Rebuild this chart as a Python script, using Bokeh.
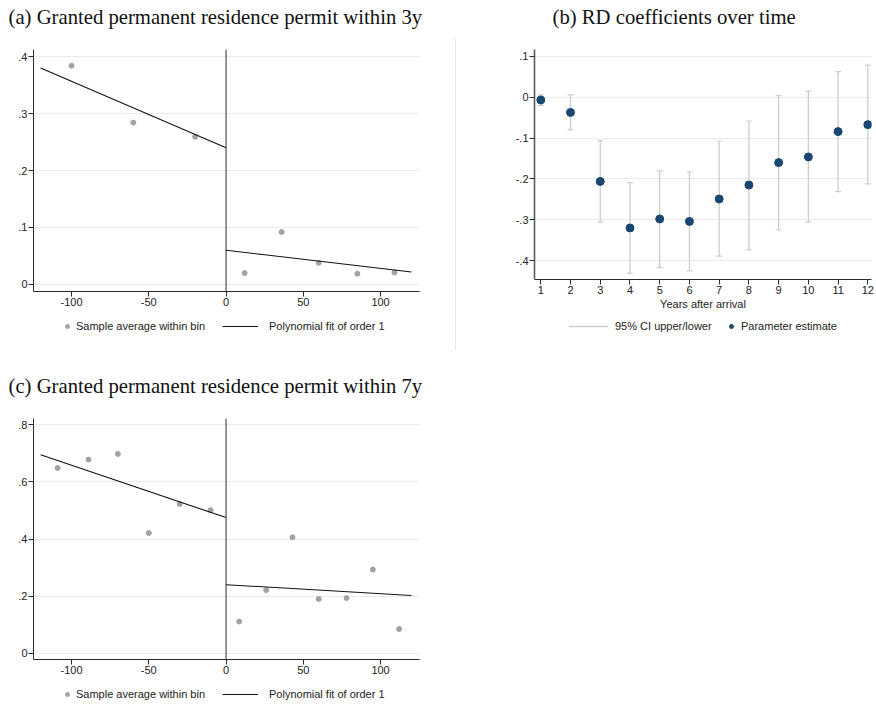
from bokeh.plotting import figure
from bokeh.models import (Span, Legend, LegendItem, FixedTicker, CustomJSTickFormatter,
                          Title, Div, Range1d)
from bokeh.layouts import row, column
from bokeh.embed import file_html
from bokeh.resources import INLINE

# ---------------- data ----------------
# Panel (a): granted permanent residence permit within 3y
a_bin_x = [-100, -60, -20, 12, 36, 60, 85, 109]
a_bin_y = [0.384, 0.284, 0.259, 0.020, 0.092, 0.038, 0.019, 0.021]
a_fitL_x = [-120, 0]
a_fitL_y = [0.380, 0.240]
a_fitR_x = [0, 120]
a_fitR_y = [0.060, 0.022]
a_yticks = [0, 0.1, 0.2, 0.3, 0.4]

# Panel (c): granted permanent residence permit within 7y
c_bin_x = [-109, -89, -70, -50, -30, -10, 8.5, 26, 43, 60, 78, 95, 112]
c_bin_y = [0.649, 0.678, 0.698, 0.421, 0.523, 0.501, 0.111, 0.221, 0.406, 0.190, 0.193, 0.293, 0.085]
c_fitL_x = [-120, 0]
c_fitL_y = [0.695, 0.475]
c_fitR_x = [0, 120]
c_fitR_y = [0.240, 0.202]
c_yticks = [0, 0.2, 0.4, 0.6, 0.8]

rd_xticks = [-100, -50, 0, 50, 100]

# Panel (b): RD coefficients over time
b_years = [1, 2, 3, 4, 5, 6, 7, 8, 9, 10, 11, 12]
b_est = [-0.0065, -0.037, -0.206, -0.320, -0.298, -0.304, -0.249, -0.215, -0.160, -0.146, -0.084, -0.067]
b_upper = [0.006, 0.006, -0.106, -0.209, -0.180, -0.183, -0.107, -0.058, 0.004, 0.015, 0.063, 0.079]
b_lower = [-0.020, -0.079, -0.306, -0.431, -0.417, -0.425, -0.389, -0.374, -0.325, -0.306, -0.231, -0.212]
b_yticks = [-0.4, -0.3, -0.2, -0.1, 0, 0.1]

# ---------------- style ----------------
SANS = "Liberation Sans"
SERIF = "Liberation Serif"
AXIS_C = "#2b2b2b"
GRID_C = "#e5ecee"
PT_C = "#a3a3a3"
NAVY = "#1a476f"
CI_C = "#cdcdcd"
FS = "11px"
TITLE_FS = "20.7px"

yfmt = CustomJSTickFormatter(code="""
    if (Math.abs(tick) < 1e-9) { return '0'; }
    var s = (Math.round(tick * 10) / 10).toFixed(1);
    return s.replace(/^(-?)0\\./, '$1.');
""")
xfmt = CustomJSTickFormatter(code="return String(Math.round(tick));")


def style_axes(p, yticks, xticks):
    for ax in (p.xaxis[0], p.yaxis[0]):
        ax.axis_line_color = AXIS_C
        ax.major_tick_line_color = AXIS_C
        ax.major_tick_out = 5
        ax.major_tick_in = 0
        ax.minor_tick_line_color = None
        ax.major_label_text_font = SANS
        ax.major_label_text_font_size = FS
        ax.major_label_text_color = "#222222"
        ax.major_label_standoff = 1
    p.yaxis[0].ticker = FixedTicker(ticks=yticks)
    p.yaxis[0].formatter = yfmt
    p.yaxis[0].major_label_orientation = "horizontal"
    p.xaxis[0].ticker = FixedTicker(ticks=xticks)
    p.xaxis[0].formatter = xfmt
    p.xgrid.visible = False
    p.ygrid.grid_line_color = GRID_C
    p.ygrid.grid_line_width = 1
    p.ygrid.ticker = FixedTicker(ticks=yticks)
    p.outline_line_color = None
    p.background_fill_color = "white"
    p.border_fill_color = "white"


def add_title(p, text, offset):
    # spacer nearest to the frame, then the real title above it
    p.add_layout(Title(text=" ", text_font_size="10px", standoff=9), "above")
    p.add_layout(Title(text=text, align="left", offset=offset, text_font=SERIF,
                       text_font_size=TITLE_FS, text_font_style="normal",
                       text_color="#111111", vertical_align="bottom", standoff=0), "above")


def make_leg(items, loc, gw, standoff):
    return Legend(items=items, location=loc, orientation="horizontal",
                  glyph_width=gw, glyph_height=20, label_standoff=standoff,
                  padding=0, margin=0, spacing=0, border_line_color=None,
                  background_fill_alpha=0, label_text_font=SANS,
                  label_text_font_size=FS, label_text_color="#222222")


def legend_fig(width, height):
    # key strip under a panel; its ranges lie away from the data so only the key shows
    q = figure(width=width, height=height, output_backend="svg", toolbar_location=None,
               x_range=Range1d(-1001, -1000), y_range=Range1d(-1001, -1000),
               x_axis_location=None, y_axis_location=None,
               min_border_left=0, min_border_right=0, min_border_top=0, min_border_bottom=0,
               frame_align=False)
    q.grid.visible = False
    q.outline_line_color = None
    return q


def rd_panel(title, bx, by, flx, fly, frx, fry, yticks, yr, height, top, leg_h, leg_y):
    p = figure(width=455, height=height, output_backend="svg", toolbar_location=None,
               x_range=Range1d(-124.6, 125.2), y_range=Range1d(*yr),
               min_border_left=33, min_border_right=36,
               min_border_top=top, min_border_bottom=21, frame_align=False)
    style_axes(p, yticks, rd_xticks)
    p.add_layout(Span(location=0, dimension="height", line_color=AXIS_C, line_width=1))
    p.scatter(bx, by, size=5, color=PT_C, line_color=PT_C)
    p.line(flx, fly, line_color="#111111", line_width=1.1)
    p.line(frx, fry, line_color="#111111", line_width=1.1)
    add_title(p, title, -25)

    q = legend_fig(455, leg_h)
    sc = q.scatter(bx, by, size=5, color=PT_C, line_color=PT_C)
    ln = q.line(flx, fly, line_color="#111111", line_width=1.1)
    q.add_layout(make_leg([LegendItem(label="Sample average within bin", renderers=[sc])],
                          (62, leg_y), 10, 4))
    q.add_layout(make_leg([LegendItem(label="Polynomial fit of order 1", renderers=[ln])],
                          (222, leg_y), 36, 11))
    return column(p, q, spacing=0)


col_a = rd_panel("(a) Granted permanent residence permit within 3y",
                 a_bin_x, a_bin_y, a_fitL_x, a_fitL_y, a_fitR_x, a_fitR_y,
                 a_yticks, (-0.0123, 0.4123), 312, 49, 38, 14)

col_c = rd_panel("(c) Granted permanent residence permit within 7y",
                 c_bin_x, c_bin_y, c_fitL_x, c_fitL_y, c_fitR_x, c_fitR_y,
                 c_yticks, (-0.022, 0.822), 330, 68, 30, 6)

# Panel (b)
pb = figure(width=418, height=312, output_backend="svg", toolbar_location=None,
            x_range=Range1d(0.788, 12.124), y_range=Range1d(-0.4463, 0.1171),
            min_border_left=78, min_border_right=3, min_border_top=49, min_border_bottom=32,
            frame_align=False)
style_axes(pb, b_yticks, b_years)
pb.yaxis[0].axis_line_color = "#5a5a5a"
pb.yaxis[0].axis_line_width = 1.6
pb.xaxis[0].axis_label = "Years after arrival"
pb.xaxis[0].axis_label_text_font = SANS
pb.xaxis[0].axis_label_text_font_size = FS
pb.xaxis[0].axis_label_text_font_style = "normal"
pb.xaxis[0].axis_label_text_color = "#222222"
pb.xaxis[0].axis_label_standoff = 1
pb.segment(b_years, b_lower, b_years, b_upper, line_color=CI_C, line_width=1.3)
pb.scatter(b_years, b_upper, marker="dash", size=6, line_color=CI_C, line_width=1.2)
pb.scatter(b_years, b_lower, marker="dash", size=6, line_color=CI_C, line_width=1.2)
pb.scatter(b_years, b_est, size=8, color=NAVY, line_color=NAVY)
add_title(pb, "(b) RD coefficients over time", 18)

qb = legend_fig(418, 38)
seg = qb.segment(b_years, b_lower, b_years, b_upper, line_color=CI_C, line_width=1.3)
est = qb.scatter(b_years, b_est, size=6.5, color=NAVY, line_color=NAVY)
qb.add_layout(make_leg([LegendItem(label="95% CI upper/lower", renderers=[seg])],
                       (112, 14), 40, 7))
qb.add_layout(make_leg([LegendItem(label="Parameter estimate", renderers=[est])],
                       (270, 14), 10, 5))
col_b = column(pb, qb, spacing=0)

sep = Div(width=1, height=312, margin=(38, 0, 0, 0),
          styles={"background-color": "#e9e9e9"})

layout = column(row(col_a, sep, col_b, spacing=0), col_c, spacing=0)

open("out.html", "w").write(file_html(layout, INLINE))
